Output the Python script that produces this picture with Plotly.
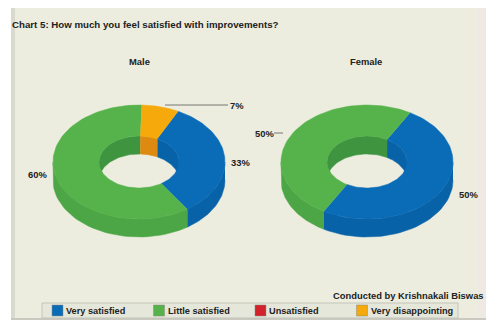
import numpy as np
import plotly.graph_objects as go

# Survey answers, percent of respondents
categories = ["Very satisfied", "Little satisfied", "Unsatisfied", "Very disappointing"]
male_values = [33, 60, 0, 7]
female_values = [50, 50, 0, 0]
panel_titles = ["Male", "Female"]
top_colors = ["#0A6CB6", "#56B24A", "#D2232A", "#F5A90A"]
hole_colors = ["#0862A8", "#3F9440", "#A51B20", "#DE8A10"]
rim_colors = ["#0862A8", "#4CA645", "#B81E24", "#DB960A"]

CHART_TITLE = "Chart 5: How much you feel satisfied with improvements?"
CREDIT = "Conducted by Krishnakali Biswas"

RX, RY = 86, 57
IRX, IRY = 40, 26
DEPTH = 18
CY = 162


def ring_point(cx, t, rx, ry, dy=0):
    # t is degrees clockwise from twelve o'clock
    r = np.radians(t)
    return cx + rx * np.sin(r), CY - ry * np.cos(r) + dy


def poly_trace(xs, ys, color):
    return go.Scatter(x=xs, y=ys, mode="lines", fill="toself", fillcolor=color,
                      line=dict(color=color, width=0.5), hoverinfo="skip", showlegend=False)


def wall(cx, a, b, rx, ry, color):
    ts = np.linspace(a, b, 40)
    x1, y1 = ring_point(cx, ts, rx, ry)
    x2, y2 = ring_point(cx, ts[::-1], rx, ry, DEPTH)
    return poly_trace(np.r_[x1, x2], np.r_[y1, y2], color)


def donut(cx, values, start):
    edges = start + np.cumsum([0] + values) * 3.6
    walls_in, walls_out, tops = [], [], []
    for i, v in enumerate(values):
        if v == 0:
            continue
        a, b = edges[i], edges[i + 1]
        # the far side of the hole and the near side of the rim are what show
        for lo, hi in ((-90, 90), (270, 450)):
            s, e = max(a, lo), min(b, hi)
            if s < e:
                walls_in.append(wall(cx, s, e, IRX, IRY, hole_colors[i]))
        s, e = max(a, 90), min(b, 270)
        if s < e:
            walls_out.append(wall(cx, s, e, RX, RY, rim_colors[i]))
        ts = np.linspace(a, b, 80)
        ox, oy = ring_point(cx, ts, RX, RY)
        ix, iy = ring_point(cx, ts[::-1], IRX, IRY)
        tops.append(poly_trace(np.r_[ox, ix], np.r_[oy, iy], top_colors[i]))
    return walls_in + walls_out + tops


fig = go.Figure()
for trace in donut(139, male_values, 27) + donut(367, female_values, 30):
    fig.add_trace(trace)


def label(x, y, text, size=9.4, anchor="center"):
    fig.add_annotation(x=x, y=y, text=f"<b>{text}</b>", showarrow=False, xanchor=anchor,
                       borderpad=0, borderwidth=0,
                       font=dict(family="Liberation Sans", size=size, color="#222222"))


label(12, 24, CHART_TITLE, 9.7, "left")
label(139, 61, panel_titles[0], 9.4)
label(366, 61, panel_titles[1], 9.4)
label(333, 295, CREDIT, 9.4, "left")
label(237, 105, f"{male_values[3]}%")
label(240, 162, f"{male_values[0]}%")
label(37, 174, f"{male_values[1]}%")
label(264, 133, f"{female_values[1]}%")
label(468, 194, f"{female_values[0]}%")

shapes = [
    dict(type="rect", x0=11, x1=486, y0=8, y1=320, fillcolor="#ECEDDF", line_width=0, layer="below"),
    dict(type="rect", x0=11, x1=15, y0=8, y1=320, fillcolor="#D9D9CE", line_width=0, layer="below"),
    dict(type="rect", x0=478, x1=486, y0=8, y1=320, fillcolor="#EFE9E4", line_width=0, layer="below"),
    dict(type="rect", x0=11, x1=486, y0=318, y1=320, fillcolor="#C9C9C0", line_width=0, layer="below"),
    dict(type="rect", x0=42, x1=458, y0=303, y1=318, fillcolor="#E6E7DB",
         line=dict(color="#C4C4BA", width=1), layer="below"),
    dict(type="line", x0=165, x1=228, y0=105, y1=105, line=dict(color="#777770", width=1)),
    dict(type="line", x0=274, x1=283, y0=133, y1=133, line=dict(color="#777770", width=1)),
]

# Legend row: a key and a caption per answer, including the one nobody chose
for i, (name, color) in enumerate(zip(categories, top_colors)):
    left = 52 + i * 101.5
    shapes.append(dict(type="rect", x0=left, x1=left + 11, y0=305, y1=316, fillcolor=color,
                       line=dict(color="#8A8A80", width=0.5)))
    label(left + 14, 311, name, 9.2, "left")

fig.update_layout(
    width=486, height=320, margin=dict(l=0, r=0, t=0, b=0),
    paper_bgcolor="#FFFFFF", plot_bgcolor="rgba(0,0,0,0)", shapes=shapes,
    xaxis=dict(range=[0, 486], visible=False, fixedrange=True),
    yaxis=dict(range=[320, 0], visible=False, fixedrange=True),
    showlegend=False,
)

fig.write_html("out.html", config=dict(displayModeBar=False))
